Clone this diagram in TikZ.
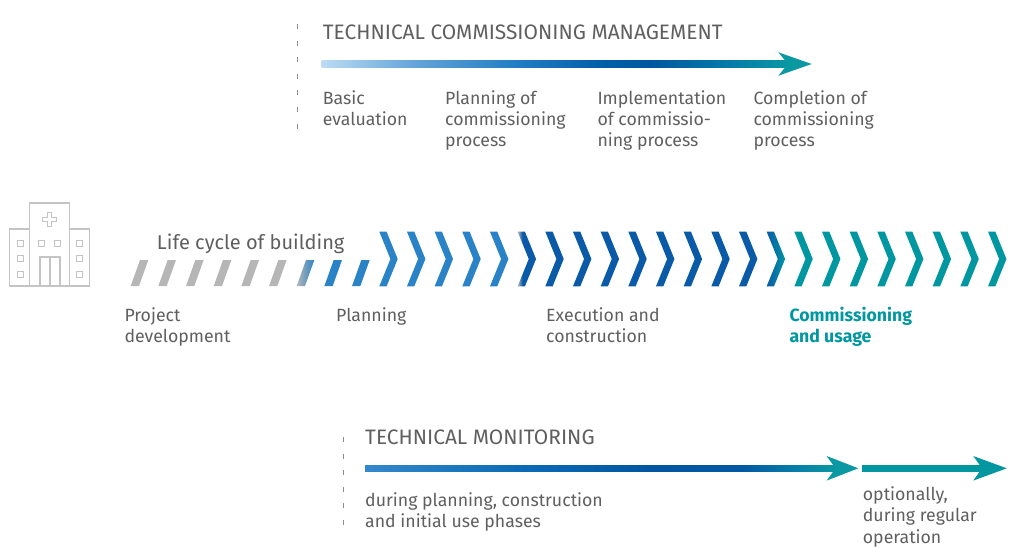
\documentclass[tikz,border=0pt]{standalone}
\usepackage{fontspec}
\setmainfont{Fira Sans}
\definecolor{txtgray}{HTML}{5F5F5F}
\definecolor{icongray}{HTML}{C4C4C4}
\definecolor{dashgray}{HTML}{8C8C8C}
\definecolor{slashgray}{HTML}{B6B6B6}
\definecolor{lightblue}{HTML}{2A83C6}
\definecolor{darkblue}{HTML}{0A5AA7}
\definecolor{ctteal}{HTML}{0097A1}
\definecolor{tcmA}{HTML}{BCDCF4}
\definecolor{tcmB}{HTML}{65A3D9}
\definecolor{tcmC}{HTML}{1F7DC3}
\definecolor{tcmD}{HTML}{005FA9}
\definecolor{tcmE}{HTML}{0056A0}
\definecolor{tcmF}{HTML}{0479A9}
\definecolor{tcmG}{HTML}{0A98A3}
\definecolor{tmA}{HTML}{3388CA}
\definecolor{tmB}{HTML}{0B6CB5}
\definecolor{tmC}{HTML}{0056A1}
\definecolor{tmD}{HTML}{0058A2}
\definecolor{tmE}{HTML}{0780A8}
\pgfdeclarehorizontalshading{tcmshade}{100bp}{color(0bp)=(tcmA); color(25bp)=(tcmA); color(35bp)=(tcmB); color(46bp)=(tcmC); color(55bp)=(tcmD); color(60bp)=(tcmE); color(68bp)=(tcmF); color(75bp)=(tcmG); color(100bp)=(tcmG)}
\pgfdeclarehorizontalshading{tmshade}{100bp}{color(0bp)=(tmA); color(25bp)=(tmA); color(41bp)=(tmB); color(55bp)=(tmC); color(65bp)=(tmD); color(71bp)=(tmE); color(75bp)=(tcmG); color(100bp)=(tcmG)}
\pgfdeclarehorizontalshading{graytoblue}{100bp}{color(0bp)=(slashgray); color(25bp)=(slashgray); color(38bp)=(darkblue); color(100bp)=(darkblue)}
\newcommand{\chevronpath}[1]{(#1,231.7) -- ++(7.3,0) -- ++(11.1,27.3) -- ++(-11.1,27.3) -- ++(-7.3,0) -- ++(11.1,-27.3) -- cycle}
\newcommand{\slashpath}[1]{(#1,286) -- ++(8.3,0) -- ++(9.3,-26) -- ++(-8.3,0) -- cycle}
\begin{document}
\begin{tikzpicture}[x=1pt,y=-1pt,
  title/.style={anchor=base west,inner sep=0pt,text=txtgray,font=\fontsize{20.9}{25}\selectfont},
  phasetext/.style={anchor=base west,inner sep=0pt,align=left,text=txtgray,font=\fontsize{17.7}{21.2}\selectfont},
  icon/.style={draw=icongray,line width=1.1pt},
  dashline/.style={draw=dashgray,line width=0.9pt,dash pattern=on 5pt off 11.6pt}]
\useasboundingbox (0,0) rectangle (1009,547);

\draw[dashline] (297,24) -- (297,130);
\node[title] (tcm) at (322.7,39.3) {TECHNICAL COMMISSIONING MANAGEMENT};
\shade[shading=tcmshade] (321.7,60.7) rectangle (789,67.3);
\fill[tcmG] (811.7,64) -- (778.3,52.3) -- (788,64) -- (778.3,75.7) -- cycle;
\node[phasetext] (basic) at (322.7,125.5) {Basic\\evaluation};
\node[phasetext] (plan) at (445,146.7) {Planning of\\commissioning\\process};
\node[phasetext] (impl) at (597.3,146.7) {Implementation\\of commissio-\\ning process};
\node[phasetext] (compl) at (753.3,146.7) {Completion of\\commissioning\\process};

\draw[icon] (9.3,229) rectangle (29.3,286);
\draw[icon] (29.3,203) rectangle (69.3,286);
\draw[icon] (69.3,229) rectangle (89.3,286);
\draw[icon] (47.4,212.7) -- (51.9,212.7) -- (51.9,217.4) -- (56.6,217.4) -- (56.6,221.9) -- (51.9,221.9) -- (51.9,226.6) -- (47.4,226.6) -- (47.4,221.9) -- (42.7,221.9) -- (42.7,217.4) -- (47.4,217.4) -- cycle;
\draw[icon] (40,257) rectangle (60,286) (50,257) -- (50,286);
\foreach \y in {240,255.7,271.3}
  \draw[icon,line width=0.9pt] (17.3,\y) rectangle ++(6,6) (76,\y) rectangle ++(6,6);
\draw[icon,line width=0.9pt] (38,240) rectangle ++(6,6) (54.7,240) rectangle ++(6,6);

\node[title,font=\fontsize{20}{24}\selectfont] (life) at (156.7,249.3) {Life cycle of building};
\foreach \j in {0,...,5}
  \fill[slashgray] \slashpath{130.7+27.67*\j};
\shade[left color=slashgray,right color=lightblue] \slashpath{296.7};
\foreach \j in {7,8}
  \fill[lightblue] \slashpath{130.7+27.67*\j};
\foreach \i in {0,...,4}
  \fill[lightblue] \chevronpath{379.3+27.67*\i};
\shade[shading=graytoblue] \chevronpath{517.65};
\foreach \i in {6,...,13}
  \fill[darkblue] \chevronpath{379.3+27.67*\i};
\shade[left color=darkblue,right color=ctteal] \chevronpath{766.68};
\foreach \i in {15,...,22}
  \fill[ctteal] \chevronpath{379.3+27.67*\i};

\node[phasetext] (projdev) at (124.3,342.9) {Project\\development};
\node[phasetext] (planning) at (336,321.7) {Planning};
\node[phasetext] (exec) at (546,342.9) {Execution and\\construction};
\node[phasetext,text=ctteal,font=\fontsize{17.7}{21.2}\selectfont\bfseries] (usage) at (789.3,342.9) {Commissioning\\and usage};

\draw[dashline] (343.3,437) -- (343.3,533);
\node[title] (tm) at (365,444.3) {TECHNICAL MONITORING};
\shade[shading=tmshade] (365,465) rectangle (836,471.7);
\fill[tcmG] (858.3,468.3) -- (826.7,456) -- (835.5,468.3) -- (826.7,480.6) -- cycle;
\fill[ctteal] (862.3,465) rectangle (983,471.7);
\fill[ctteal] (1006.7,468.3) -- (973.3,456) -- (982,468.3) -- (973.3,480.6) -- cycle;
\node[phasetext] (during) at (365,527.9) {during planning, construction\\and initial use phases};
\node[phasetext] (option) at (862.7,543.1) {optionally,\\during regular\\operation};
\end{tikzpicture}
\end{document}
